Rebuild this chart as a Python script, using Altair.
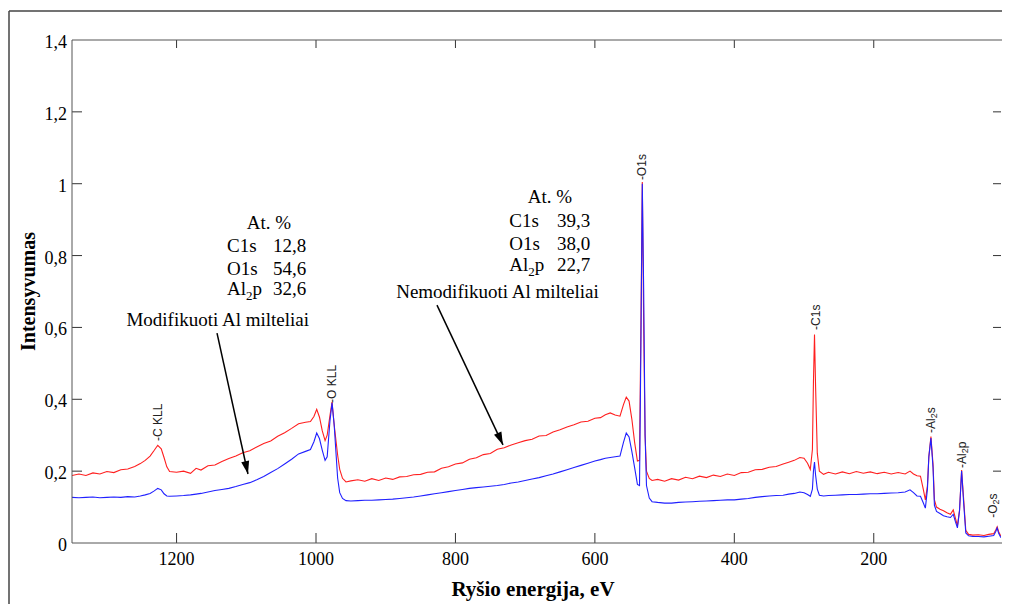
import altair as alt
import pandas as pd

# ---------------- data ----------------
energy = [1350, 1340, 1330, 1320, 1310, 1300, 1290, 1280, 1270, 1260, 1252, 1245, 1238, 1232, 1227,
          1222, 1218, 1214, 1210, 1200, 1190, 1180, 1172, 1165, 1155, 1145, 1135, 1125, 1115, 1105,
          1095, 1085, 1075, 1065, 1055, 1045, 1035, 1025, 1015, 1008, 1003, 999, 995, 991, 987,
          984, 980, 977, 974, 969, 966, 962, 957, 950, 940, 930, 920, 910, 900, 890,
          880, 870, 860, 850, 840, 830, 820, 810, 800, 790, 780, 770, 760, 750, 740,
          730, 720, 710, 700, 690, 680, 670, 660, 650, 640, 630, 620, 610, 600, 592,
          585, 578, 571, 564, 559, 555, 551, 547, 543, 539, 536, 534, 532, 530, 528,
          526, 522, 518, 510, 500, 490, 480, 470, 460, 450, 440, 430, 420, 410, 400,
          390, 380, 370, 360, 350, 340, 330, 322, 314, 306, 300, 295, 291, 288, 286.5,
          285, 283.5, 281, 278, 272, 265, 255, 245, 235, 225, 215, 205, 195, 185, 175,
          165, 155, 148, 143, 138, 133, 129, 126, 123, 121, 118, 115, 113, 110, 105,
          100, 95, 90, 86, 83, 80, 77, 74, 71, 68, 64, 58, 50, 42, 35,
          28, 25, 23, 21, 18, 12, 6]

red = [0.188, 0.192, 0.188, 0.195, 0.192, 0.199, 0.196, 0.204, 0.206, 0.213, 0.221, 0.230, 0.242, 0.258, 0.272,
       0.262, 0.238, 0.212, 0.199, 0.197, 0.200, 0.194, 0.208, 0.203, 0.215, 0.217, 0.227, 0.235, 0.242, 0.251,
       0.257, 0.267, 0.277, 0.284, 0.297, 0.307, 0.319, 0.332, 0.336, 0.338, 0.352, 0.372, 0.350, 0.312, 0.285,
       0.300, 0.355, 0.392, 0.330, 0.245, 0.205, 0.180, 0.170, 0.173, 0.176, 0.172, 0.179, 0.174, 0.181, 0.177,
       0.184, 0.185, 0.190, 0.191, 0.197, 0.198, 0.208, 0.212, 0.220, 0.223, 0.233, 0.237, 0.246, 0.249, 0.261,
       0.265, 0.273, 0.279, 0.285, 0.289, 0.298, 0.299, 0.309, 0.315, 0.323, 0.329, 0.337, 0.339, 0.347, 0.349,
       0.357, 0.362, 0.356, 0.353, 0.385, 0.406, 0.395, 0.345, 0.280, 0.228, 0.230, 0.600, 1.005, 0.600, 0.300,
       0.200, 0.180, 0.174, 0.177, 0.172, 0.179, 0.175, 0.183, 0.179, 0.186, 0.182, 0.189, 0.185, 0.192, 0.188,
       0.196, 0.197, 0.204, 0.205, 0.211, 0.213, 0.220, 0.225, 0.230, 0.238, 0.236, 0.222, 0.205, 0.260, 0.450,
       0.580, 0.440, 0.250, 0.200, 0.191, 0.197, 0.192, 0.198, 0.193, 0.199, 0.194, 0.198, 0.193, 0.197, 0.192,
       0.196, 0.192, 0.200, 0.192, 0.187, 0.186, 0.150, 0.120, 0.160, 0.240, 0.296, 0.220, 0.120, 0.100, 0.094,
       0.090, 0.084, 0.080, 0.092, 0.070, 0.048, 0.090, 0.203, 0.120, 0.035, 0.024, 0.022, 0.023, 0.021, 0.024,
       0.026, 0.036, 0.045, 0.032, 0.020, 0.018, 0.019]

blue = [0.127, 0.126, 0.127, 0.128, 0.126, 0.127, 0.128, 0.127, 0.129, 0.128, 0.131, 0.134, 0.138, 0.145, 0.152,
        0.148, 0.137, 0.131, 0.130, 0.131, 0.132, 0.134, 0.136, 0.138, 0.142, 0.146, 0.149, 0.152, 0.157, 0.163,
        0.168, 0.176, 0.185, 0.196, 0.207, 0.220, 0.233, 0.248, 0.255, 0.260, 0.282, 0.306, 0.290, 0.258, 0.230,
        0.240, 0.340, 0.390, 0.330, 0.181, 0.140, 0.124, 0.118, 0.117, 0.118, 0.119, 0.119, 0.120, 0.121, 0.122,
        0.124, 0.126, 0.128, 0.131, 0.134, 0.137, 0.140, 0.143, 0.146, 0.149, 0.152, 0.154, 0.156, 0.158, 0.160,
        0.163, 0.167, 0.170, 0.174, 0.178, 0.182, 0.187, 0.192, 0.198, 0.204, 0.210, 0.216, 0.222, 0.228, 0.232,
        0.236, 0.238, 0.240, 0.242, 0.280, 0.306, 0.295, 0.255, 0.210, 0.163, 0.160, 0.550, 1.000, 0.700, 0.300,
        0.160, 0.125, 0.115, 0.113, 0.111, 0.111, 0.113, 0.114, 0.115, 0.116, 0.117, 0.118, 0.119, 0.120, 0.120,
        0.122, 0.124, 0.127, 0.129, 0.131, 0.132, 0.133, 0.136, 0.138, 0.142, 0.140, 0.135, 0.130, 0.150, 0.200,
        0.225, 0.190, 0.150, 0.133, 0.131, 0.132, 0.133, 0.134, 0.135, 0.135, 0.136, 0.137, 0.137, 0.138, 0.139,
        0.140, 0.142, 0.148, 0.140, 0.131, 0.130, 0.112, 0.097, 0.150, 0.240, 0.292, 0.210, 0.105, 0.088, 0.082,
        0.076, 0.073, 0.071, 0.080, 0.060, 0.042, 0.090, 0.200, 0.110, 0.028, 0.020, 0.018, 0.018, 0.017, 0.019,
        0.021, 0.032, 0.042, 0.028, 0.016, 0.015, 0.015]

x_ticks = [1200, 1000, 800, 600, 400, 200]
x_tick_labels = ["1200", "1000", "800", "600", "400", "200"]
y_ticks = [0, 0.2, 0.4, 0.6, 0.8, 1.0, 1.2, 1.4]
y_tick_labels = ["0", "0,2", "0,4", "0,6", "0,8", "1", "1,2", "1,4"]
inner_y_ticks = [0.2, 0.4, 0.6, 0.8, 1.0, 1.2]

x_title = "Ryšio energija, eV"
y_title = "Intensyvumas"

# annotation texts
block_heads = ["At. %", "At. %", "Modifikuoti Al milteliai", "Nemodifikuoti Al milteliai"]
block_heads_x = [1067.4, 664.4, 1141.0, 739.7]
block_heads_y = [0.874, 0.946, 0.604, 0.682]

row_names = ["C1s", "O1s", "Al", "C1s", "O1s", "Al"]
row_values = ["12,8", "54,6", "32,6", "39,3", "38,0", "22,7"]
row_x = [1127.7, 1127.7, 1127.7, 722.7, 722.7, 722.7]
num_x = [1061.7, 1061.7, 1061.7, 654.3, 654.3, 654.3]
row_y = [0.810, 0.746, 0.690, 0.880, 0.815, 0.757]

peak_names = ["-C KLL", "-O KLL", "-O1s", "-C1s", "-Al", "-Al", "-O"]
peak_x = [1227, 977, 532.4, 283.5, 117.5, 73, 28.5]
peak_y = [0.284, 0.390, 1.010, 0.593, 0.306, 0.209, 0.070]

arrow_x = [1142.0, 826.5]
arrow_y = [0.584, 0.662]
arrow_x2 = [1097.6, 731.8]
arrow_y2 = [0.192, 0.273]

# ---------------- chart ----------------
W, H = 929, 503
SERIF = "Liberation Serif"
SANS = "Liberation Sans"

spec = pd.DataFrame({"E": energy, "red": red, "blue": blue})
xscale = alt.Scale(domain=[17.5, 1350], reverse=True, nice=False, zero=False)
yscale = alt.Scale(domain=[0, 1.4], nice=False, zero=False)

red_line = alt.Chart(spec).mark_line(color="#ff1f1f", strokeWidth=1.1, clip=True).encode(
    x=alt.X("E:Q", scale=xscale, axis=None),
    y=alt.Y("red:Q", scale=yscale, axis=None),
)
blue_line = alt.Chart(spec).mark_line(color="#2020ff", strokeWidth=1.1, clip=True).encode(
    x=alt.X("E:Q", axis=None),
    y=alt.Y("blue:Q", axis=None),
)

xt = pd.DataFrame({"v": x_ticks, "label": x_tick_labels})
yt_all = pd.DataFrame({"v": y_ticks, "label": y_tick_labels})
yt = pd.DataFrame({"v": inner_y_ticks})
one = pd.DataFrame({"k": [0]})
tick_color = "#333"
axis_color = "#555"

bottom_ticks = alt.Chart(xt).mark_rule(color=tick_color, strokeWidth=1).encode(
    x=alt.X("v:Q", axis=None), y=alt.value(H), y2=alt.value(H - 10))
top_ticks = alt.Chart(xt).mark_rule(color=tick_color, strokeWidth=1).encode(
    x=alt.X("v:Q", axis=None), y=alt.value(0), y2=alt.value(8))
left_ticks = alt.Chart(yt).mark_rule(color=tick_color, strokeWidth=1).encode(
    y=alt.Y("v:Q", axis=None), x=alt.value(0), x2=alt.value(10))
right_ticks = alt.Chart(yt).mark_rule(color=tick_color, strokeWidth=1).encode(
    y=alt.Y("v:Q", axis=None), x=alt.value(W - 8), x2=alt.value(W))

top_border = alt.Chart(one).mark_rule(color=axis_color, strokeWidth=1).encode(
    x=alt.value(0), x2=alt.value(W + 1), y=alt.value(0))
left_domain = alt.Chart(one).mark_rule(color=axis_color, strokeWidth=1).encode(
    x=alt.value(0), y=alt.value(0), y2=alt.value(H))
bottom_domain = alt.Chart(one).mark_rule(color=axis_color, strokeWidth=1).encode(
    x=alt.value(0), x2=alt.value(W + 1), y=alt.value(H))
frame_top = alt.Chart(one).mark_rule(color="#444", strokeWidth=1.5).encode(
    x=alt.value(-63), x2=alt.value(W + 1), y=alt.value(-29))
frame_left = alt.Chart(one).mark_rule(color="#444", strokeWidth=1.5).encode(
    x=alt.value(-63), y=alt.value(-29), y2=alt.value(H + 61))

x_labels = alt.Chart(xt).mark_text(font=SERIF, fontSize=18, color="#000", align="center",
                                   baseline="top").encode(
    x=alt.X("v:Q", axis=None), y=alt.value(H + 8), text="label:N")
y_labels = alt.Chart(yt_all).mark_text(font=SERIF, fontSize=18, color="#000", align="right",
                                       baseline="middle", dy=3).encode(
    y=alt.Y("v:Q", axis=None), x=alt.value(-5), text="label:N")
x_title_mark = alt.Chart(one).mark_text(font=SERIF, fontSize=21, fontWeight="bold", color="#000",
                                        align="center", baseline="alphabetic", text=x_title).encode(
    x=alt.value(461), y=alt.value(H + 53))
y_title_mark = alt.Chart(one).mark_text(font=SERIF, fontSize=20, fontWeight="bold", color="#000",
                                        align="center", baseline="alphabetic", angle=270,
                                        text=y_title).encode(
    x=alt.value(-37), y=alt.value(H / 2))

heads_df = pd.DataFrame({"text": block_heads, "x": block_heads_x, "y": block_heads_y})
rows_df = pd.DataFrame({"name": row_names, "val": row_values, "x": row_x, "nx": num_x, "y": row_y})
al_df = rows_df[rows_df["name"] == "Al"]


def serif_text(df, field, xfield="x", **kw):
    return alt.Chart(df).mark_text(font=SERIF, fontSize=19, color="#000",
                                   baseline="alphabetic", **kw).encode(
        x=alt.X(f"{xfield}:Q", axis=None), y=alt.Y("y:Q", axis=None), text=f"{field}:N")


heads = serif_text(heads_df, "text", align="center")
names = serif_text(rows_df, "name", align="left")
al_sub = alt.Chart(al_df).mark_text(font=SERIF, fontSize=13, color="#000", baseline="alphabetic",
                                    align="left", dx=19, dy=5, text="2").encode(
    x=alt.X("x:Q", axis=None), y=alt.Y("y:Q", axis=None))
al_p = alt.Chart(al_df).mark_text(font=SERIF, fontSize=19, color="#000", baseline="alphabetic",
                                  align="left", dx=25.5, text="p").encode(
    x=alt.X("x:Q", axis=None), y=alt.Y("y:Q", axis=None))
values = serif_text(rows_df, "val", xfield="nx", align="left")

peaks_df = pd.DataFrame({"text": peak_names, "x": peak_x, "y": peak_y})
peak_text = alt.Chart(peaks_df).mark_text(font=SANS, fontSize=12, color="#222", angle=270,
                                          align="left", baseline="middle").encode(
    x=alt.X("x:Q", axis=None), y=alt.Y("y:Q", axis=None), text="text:N")

sub_layers = []
for idx, suffix, w in [(4, "s", 14.7), (5, "p", 14.7), (6, "s", 13.3)]:
    d = peaks_df.iloc[[idx]]
    sub_layers.append(alt.Chart(d).mark_text(font=SANS, fontSize=9, color="#222", angle=270,
                                             align="left", baseline="middle", dx=w, dy=3,
                                             text="2").encode(
        x=alt.X("x:Q", axis=None), y=alt.Y("y:Q", axis=None)))
    sub_layers.append(alt.Chart(d).mark_text(font=SANS, fontSize=12, color="#222", angle=270,
                                             align="left", baseline="middle", dx=w + 5,
                                             text=suffix).encode(
        x=alt.X("x:Q", axis=None), y=alt.Y("y:Q", axis=None)))

arrows_df = pd.DataFrame({"x": arrow_x, "y": arrow_y, "x2": arrow_x2, "y2": arrow_y2})
arrow_lines = alt.Chart(arrows_df).mark_rule(color="#000", strokeWidth=1.5).encode(
    x=alt.X("x:Q", axis=None), y=alt.Y("y:Q", axis=None), x2="x2:Q", y2="y2:Q")
head_shape = "M0,0L-0.31,-1L0.31,-1Z"
head_layers = []
for i, ang in [(0, 347.6), (1, 335.9)]:
    d = arrows_df.iloc[[i]]
    head_layers.append(alt.Chart(d).mark_point(shape=head_shape, filled=True, size=676,
                                               color="#000", opacity=1, strokeWidth=0,
                                               angle=ang).encode(
        x=alt.X("x2:Q", axis=None), y=alt.Y("y2:Q", axis=None)))

chart = alt.layer(
    red_line, blue_line,
    bottom_ticks, top_ticks, left_ticks, right_ticks,
    top_border, left_domain, bottom_domain, frame_top, frame_left,
    x_labels, y_labels, x_title_mark, y_title_mark,
    heads, names, al_sub, al_p, values, peak_text, *sub_layers, arrow_lines, *head_layers,
).properties(
    width=W, height=H,
    autosize=alt.AutoSizeParams(type="none"),
    padding={"left": 64, "top": 32, "right": 1, "bottom": 61},
).configure_view(stroke=None)

chart.save("out.html", embed_options={"renderer": "svg", "actions": False})
